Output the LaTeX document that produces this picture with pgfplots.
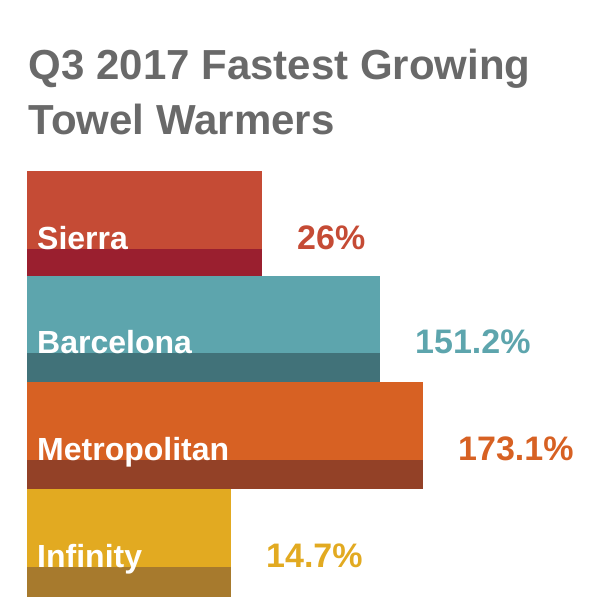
\documentclass[border=0pt]{standalone}
\usepackage{fontspec}
\setmainfont{Liberation Sans}
\usepackage{pgfplots}
\pgfplotsset{compat=1.18}

\definecolor{sierraL}{HTML}{C54B35}
\definecolor{sierraD}{HTML}{9A1F2F}
\definecolor{barcaL}{HTML}{5DA5AD}
\definecolor{barcaD}{HTML}{417279}
\definecolor{metroL}{HTML}{D76123}
\definecolor{metroD}{HTML}{934127}
\definecolor{infL}{HTML}{E2AA21}
\definecolor{infD}{HTML}{A77A2D}
\definecolor{titlegray}{HTML}{696969}

\pgfplotsset{
  valuelabel/.style={nodes near coords, point meta=explicit symbolic,
    nodes near coords style={anchor=base west, inner sep=0pt, xshift=35pt, yshift=#1,
      font=\fontsize{34}{40}\selectfont\bfseries}},
}

\begin{document}
\begin{tikzpicture}
\begin{axis}[
    x=1pt, y=1pt, y dir=reverse,
    xmin=-27, xmax=573, ymin=0, ymax=600,
    hide axis, clip=false,
]
% invisible frame so the page is 600 x 600
\addplot[draw=none] coordinates {(-27,0) (573,600)};

% light part of each bar (length in px as drawn)
\addplot[xbar, bar width=105, fill=sierraL, draw=none] coordinates {(235,223.5)};
\addplot[xbar, bar width=106, fill=barcaL, draw=none] coordinates {(353,329)};
\addplot[xbar, bar width=107, fill=metroL, draw=none] coordinates {(396,435.5)};
\addplot[xbar, bar width=108, fill=infL, draw=none] coordinates {(204,543)};

% dark band at the bottom, carrying the value label
\addplot[xbar, bar width=27, fill=sierraD, draw=none, valuelabel=13.5pt,
  nodes near coords style={text=sierraL}] coordinates {(235,262.5) [26\%]};
\addplot[xbar, bar width=29, fill=barcaD, draw=none, valuelabel=14.5pt,
  nodes near coords style={text=barcaL}] coordinates {(353,367.5) [151.2\%]};
\addplot[xbar, bar width=29, fill=metroD, draw=none, valuelabel=14.5pt,
  nodes near coords style={text=metroL}] coordinates {(396,474.5) [173.1\%]};
\addplot[xbar, bar width=30, fill=infD, draw=none, valuelabel=15pt,
  nodes near coords style={text=infL}] coordinates {(204,582) [14.7\%]};

% category names inside the bars
\addplot[only marks, mark=*, mark size=0pt, mark options={draw=none, fill=none},
  nodes near coords, point meta=explicit symbolic,
  nodes near coords style={anchor=base west, inner sep=0pt, text=white,
    font=\fontsize{32}{38}\selectfont\bfseries}]
  coordinates {(10,249) [Sierra] (10,353) [Barcelona] (10,460) [Metropolitan] (10,567) [Infinity]};

% title
\node[anchor=base west, inner sep=0pt, text=titlegray, font=\fontsize{42}{50}\selectfont\bfseries]
  at (axis cs:1.5,79) {Q3 2017 Fastest Growing};
\node[anchor=base west, inner sep=0pt, text=titlegray, font=\fontsize{42}{50}\selectfont\bfseries]
  at (axis cs:1.5,134) {Towel Warmers};
\end{axis}
\end{tikzpicture}
\end{document}
